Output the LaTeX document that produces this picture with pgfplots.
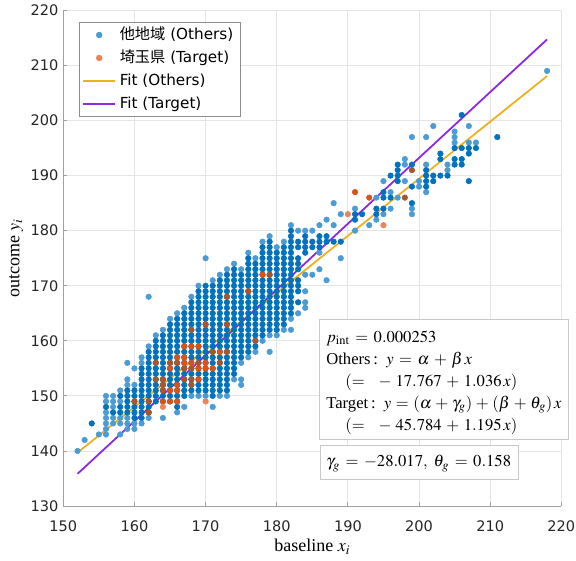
\documentclass[border=0pt]{standalone}
\usepackage{mathptmx}
\usepackage{fontspec}
\setmainfont{Liberation Serif}
\newfontfamily\dejavu{DejaVu Sans}
\newfontfamily\cjk{Noto Sans CJK JP}
\usepackage{pgfplots}
\pgfplotsset{compat=1.18}
\definecolor{bluedark}{RGB}{0,114,189}
\definecolor{bluelight}{RGB}{77,155,212}
\definecolor{orbright}{RGB}{217,83,25}
\definecolor{orbrown}{RGB}{166,87,45}
\definecolor{orlight}{RGB}{236,132,86}
\definecolor{fitothers}{RGB}{237,177,32}
\definecolor{fittarget}{RGB}{138,43,226}
\definecolor{gridgray}{RGB}{228,228,228}
\definecolor{axgray}{RGB}{160,160,160}
\definecolor{boxgray}{RGB}{200,200,200}
\begin{document}
\begin{tikzpicture}
\useasboundingbox (-45.75pt,-39.0pt) rectangle (370.5pt,365.7pt);
\begin{axis}[
  at={(0pt,0pt)}, anchor=south west,
  scale only axis, width=359.9pt, height=358.2pt,
  xmin=150, xmax=220, ymin=130, ymax=220,
  xtick={150,160,...,220}, ytick={130,140,...,220},
  grid=major, major grid style={gridgray, line width=0.6pt},
  axis x line*=bottom, axis y line*=left,
  axis line style={axgray, line width=0.6pt},
  tick style={axgray, line width=0.6pt}, tick align=inside, major tick length=3pt,
  /pgf/number format/assume math mode=true,
  tick label style={font=\dejavu\fontsize{10.5}{12}\selectfont, text=black!85},
  xticklabel style={yshift=-7pt},
  every axis x label/.style={at={(axis description cs:0.5,-0.0824)}, anchor=center},
  every axis y label/.style={at={(axis description cs:-0.0945,0.5)}, rotate=90, anchor=center},
  xlabel={\fontsize{13}{15}\selectfont baseline $x_i$},
  ylabel={\fontsize{13}{15}\selectfont outcome $y_i$},
  legend style={at={(axis description cs:0,1)}, anchor=north west, xshift=11.6pt, yshift=-8.2pt,
    draw=black!45, line width=0.6pt, fill=white, font=\dejavu\fontsize{11}{13}\selectfont,
    inner xsep=2pt, inner ysep=1pt,
    nodes={text height=8.5pt, text depth=2.5pt, inner sep=2.8pt},
    row sep=0pt},
  legend cell align=left,
  legend image code/.code={\draw[mark repeat=2,mark phase=2,#1] plot coordinates {(0pt,0pt) (11.4pt,0pt) (22.8pt,0pt)};},
]
% Others, single observations (light)
\addplot[only marks, mark=*, mark size=2pt, color=bluelight, forget plot] coordinates {
(152,140)(153,142)(155,143)
(156,143)(156,144)(156,145)(156,146)(156,147)(156,149)(156,150)
(157,145)(157,146)(157,148)(157,149)(157,150)
(158,143)(158,145)(158,146)(158,149)(158,151)
(159,144)(159,145)(159,146)(159,152)(159,153)(159,156)
(160,144)(160,145)(160,152)(160,155)
(161,145)(161,156)(161,157)
(162,146)(162,159)(162,168)
(163,161)
(164,146)(164,162)
(165,164)
(166,147)(166,165)
(167,148)(167,166)
(168,150)(168,168)
(169,150)(169,170)
(170,150)(170,175)
(171,148)(171,171)
(172,150)(172,172)
(173,150)(173,173)
(174,153)(174,174)
(175,152)(175,153)(175,156)(175,173)
(176,157)(176,176)
(177,158)(177,175)
(178,160)(178,178)
(179,158)(179,161)(179,179)
(180,161)(180,177)
(181,162)(181,178)
(182,162)(182,164)(182,181)
(183,165)(183,180)
(184,166)(184,167)(184,169)(184,172)(184,180)
(185,172)(185,180)
(186,173)(186,176)(186,181)
(187,171)(187,182)
(188,181)(188,185)
(189,175)(189,183)
(191,180)(191,184)
(193,181)
(194,182)(194,186)
(195,183)(195,189)
(196,184)(196,187)
(197,186)
(198,189)(198,192)(198,193)
(199,183)(199,184)(199,197)
(200,188)(200,189)
(201,187)(201,192)(201,197)
(202,199)
(204,191)(204,192)
(205,196)(205,197)(205,198)
(207,196)(207,199)
(208,196)
(218,209)
};
% Others, overlapping observations (dark)
\addplot[only marks, mark=*, mark size=2pt, color=bluedark, forget plot] coordinates {
(154,145)
(156,148)
(157,147)
(158,147)(158,148)(158,150)
(159,147)(159,148)(159,149)(159,150)(159,151)
(160,146)(160,147)(160,148)(160,149)(160,150)(160,151)
(161,146)(161,147)(161,148)(161,149)(161,150)(161,151)(161,152)(161,153)(161,154)(161,155)
(162,147)(162,148)(162,149)(162,150)(162,151)(162,152)(162,153)(162,154)(162,155)(162,156)(162,157)(162,158)
(163,149)(163,150)(163,151)(163,152)(163,153)(163,154)(163,155)(163,156)(163,157)(163,158)(163,159)(163,160)
(164,149)(164,150)(164,151)(164,152)(164,153)(164,154)(164,155)(164,156)(164,157)(164,158)(164,159)(164,160)(164,161)
(165,149)(165,150)(165,151)(165,152)(165,153)(165,154)(165,155)(165,156)(165,157)(165,158)(165,159)(165,160)(165,161)(165,162)(165,163)
(166,148)(166,149)(166,150)(166,151)(166,152)(166,153)(166,154)(166,155)(166,156)(166,157)(166,158)(166,159)(166,160)(166,161)(166,162)(166,163)(166,164)
(167,150)(167,151)(167,152)(167,153)(167,154)(167,155)(167,156)(167,157)(167,158)(167,159)(167,160)(167,161)(167,162)(167,163)(167,164)(167,165)
(168,151)(168,152)(168,153)(168,154)(168,155)(168,156)(168,157)(168,158)(168,159)(168,160)(168,161)(168,162)(168,163)(168,164)(168,165)(168,166)(168,167)
(169,151)(169,152)(169,153)(169,154)(169,155)(169,156)(169,157)(169,158)(169,159)(169,160)(169,161)(169,162)(169,163)(169,164)(169,165)(169,166)(169,167)(169,168)(169,169)
(170,151)(170,152)(170,153)(170,154)(170,155)(170,156)(170,157)(170,158)(170,159)(170,160)(170,161)(170,162)(170,163)(170,164)(170,165)(170,166)(170,167)(170,168)(170,169)(170,170)
(171,150)(171,151)(171,152)(171,153)(171,154)(171,155)(171,156)(171,157)(171,158)(171,159)(171,160)(171,161)(171,162)(171,163)(171,164)(171,165)(171,166)(171,167)(171,168)(171,169)(171,170)
(172,151)(172,152)(172,153)(172,154)(172,155)(172,156)(172,157)(172,158)(172,159)(172,160)(172,161)(172,162)(172,163)(172,164)(172,165)(172,166)(172,167)(172,168)(172,169)(172,170)(172,171)
(173,151)(173,152)(173,153)(173,154)(173,155)(173,156)(173,157)(173,158)(173,159)(173,160)(173,161)(173,162)(173,163)(173,164)(173,165)(173,166)(173,167)(173,168)(173,169)(173,170)(173,171)(173,172)
(174,154)(174,155)(174,156)(174,157)(174,158)(174,159)(174,160)(174,161)(174,162)(174,163)(174,164)(174,165)(174,166)(174,167)(174,168)(174,169)(174,170)(174,171)(174,172)(174,173)
(175,157)(175,158)(175,159)(175,160)(175,161)(175,162)(175,163)(175,164)(175,165)(175,166)(175,167)(175,168)(175,169)(175,170)(175,171)(175,172)
(176,158)(176,159)(176,160)(176,161)(176,162)(176,163)(176,164)(176,165)(176,166)(176,167)(176,168)(176,169)(176,170)(176,171)(176,172)(176,173)(176,174)(176,175)
(177,159)(177,160)(177,161)(177,162)(177,163)(177,164)(177,165)(177,166)(177,167)(177,168)(177,169)(177,170)(177,171)(177,172)(177,173)(177,174)
(178,161)(178,162)(178,163)(178,164)(178,165)(178,166)(178,167)(178,168)(178,169)(178,170)(178,171)(178,172)(178,173)(178,174)(178,175)(178,176)(178,177)
(179,162)(179,163)(179,164)(179,165)(179,166)(179,167)(179,168)(179,169)(179,170)(179,171)(179,172)(179,173)(179,174)(179,175)(179,176)(179,177)(179,178)
(180,162)(180,163)(180,164)(180,165)(180,166)(180,167)(180,168)(180,169)(180,170)(180,171)(180,172)(180,173)(180,174)(180,175)(180,176)
(181,163)(181,164)(181,165)(181,166)(181,167)(181,168)(181,169)(181,170)(181,171)(181,172)(181,173)(181,174)(181,175)(181,176)(181,177)
(182,165)(182,166)(182,167)(182,168)(182,169)(182,170)(182,171)(182,172)(182,173)(182,174)(182,175)(182,176)(182,177)(182,178)(182,179)(182,180)
(183,167)(183,169)(183,170)(183,171)(183,173)(183,174)(183,175)(183,177)(183,178)
(184,176)(184,177)(184,178)(184,179)
(185,177)(185,178)
(186,177)(186,178)(186,179)
(187,178)(187,179)
(188,178)(189,178)
(191,182)(191,183)(192,183)
(194,183)(194,184)
(195,184)(195,186)(195,187)
(196,186)(196,190)
(197,189)(197,190)(197,191)(197,192)
(199,185)(199,188)(199,192)
(201,188)(201,189)(201,190)(201,191)
(202,189)(202,190)
(203,190)(203,193)(203,194)
(204,190)
(205,192)(205,193)(205,195)
(206,192)(206,193)(206,195)(206,201)
(207,189)(207,194)(207,195)
(208,195)
(211,197)
};
% Target, over others (brown)
\addplot[only marks, mark=*, mark size=2pt, color=orbrown, forget plot] coordinates {
(160,149)(162,147)(162,149)(163,153)(163,156)(164,151)(164,152)(164,153)(165,156)(166,156)
(167,153)(167,155)(168,152)(168,153)(168,155)(168,162)(169,156)(170,163)(171,158)(172,156)
(173,158)(173,163)(173,168)(176,169)(177,160)(179,172)(198,186)(199,191)
};
% Target, repeated observations (bright)
\addplot[only marks, mark=*, mark size=2pt, color=orbright, forget plot] coordinates {
(164,149)(165,149)(166,149)(165,151)(166,151)(166,152)(165,155)(169,155)(170,155)(171,155)
(167,156)(168,156)(170,156)(166,157)(167,157)(167,159)(168,159)(169,159)(169,153)(172,158)
(178,172)(191,187)(193,186)
};
% Target, single observations (light)
\addplot[only marks, mark=*, mark size=2pt, color=orlight, forget plot] coordinates {
(164,148)(170,149)(190,183)(195,181)
};
\addlegendimage{only marks, mark=*, mark size=2pt, color=bluelight}
\addlegendentry{{\cjk 他地域} (Others)}
\addlegendimage{only marks, mark=*, mark size=2pt, color=orlight}
\addlegendentry{{\cjk 埼玉県} (Target)}
\addplot[fitothers, line width=1.3pt] coordinates {(152,139.705) (218,208.081)};
\addlegendentry{Fit (Others)}
\addplot[fittarget, line width=1.3pt] coordinates {(152,135.856) (218,214.726)};
\addlegendentry{Fit (Target)}
\end{axis}
\draw[boxgray, fill=white, line width=0.6pt] (184.8pt,48.4pt) rectangle (364.9pt,135.1pt);
\draw[boxgray, fill=white, line width=0.6pt] (185.5pt,19.3pt) rectangle (329.0pt,44.1pt);
\begin{scope}[every node/.style={anchor=base west, inner sep=0pt, font=\fontsize{12}{14}\selectfont}]
\node at (189.9pt,118.5pt) {$\medmuskip=5mu \thickmuskip=6mu p_{\mathrm{int}} = 0.000253$};
\node at (189.9pt,102.6pt) {Others\,:\ \ $\medmuskip=5mu \thickmuskip=6mu y = \alpha + \beta\,x$};
\node at (203.6pt,86.4pt) {$\medmuskip=5mu \thickmuskip=6mu (=\ \ -\ 17.767 + 1.036\,x)$};
\node at (189.9pt,70.8pt) {Target\,:\ \ $\medmuskip=4mu \thickmuskip=5mu y = (\alpha + \gamma_g) + (\beta + \theta_g)\,x$};
\node at (203.6pt,54.9pt) {$\medmuskip=5mu \thickmuskip=6mu (=\ \ -\ 45.784 + 1.195\,x)$};
\node at (189.9pt,28.5pt) {$\medmuskip=5mu \thickmuskip=6mu \gamma_g = -28.017,\ \theta_g = 0.158$};
\end{scope}
\end{tikzpicture}
\end{document}
